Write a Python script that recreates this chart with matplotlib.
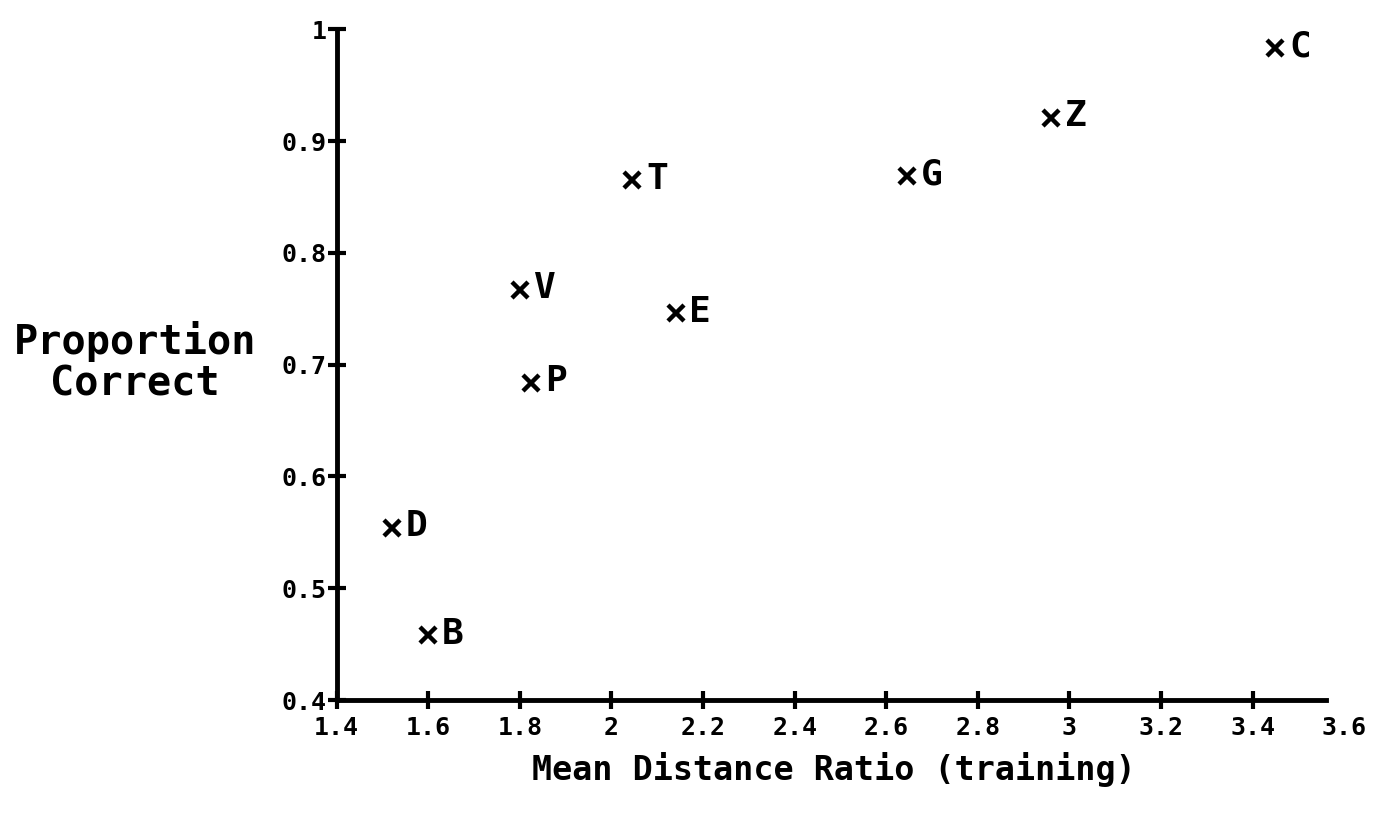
import matplotlib
matplotlib.use("Agg")
import matplotlib.pyplot as plt

plt.rcParams['font.family'] = ['DejaVu Sans Mono']
plt.rcParams['font.weight'] = 'bold'

# letter conditions: mean distance ratio vs proportion correct
letters = ["C", "Z", "G", "T", "V", "E", "P", "D", "B"]
distance_ratio = [3.45, 2.96, 2.645, 2.045, 1.80, 2.14, 1.825, 1.52, 1.60]
prop_correct = [0.983, 0.921, 0.869, 0.865, 0.767, 0.746, 0.684, 0.554, 0.458]

x_ticks = [1.4, 1.6, 1.8, 2.0, 2.2, 2.4, 2.6, 2.8, 3.0, 3.2, 3.4, 3.6]
x_labels = ["1.4", "1.6", "1.8", "2", "2.2", "2.4", "2.6", "2.8", "3", "3.2", "3.4", "3.6"]
y_ticks = [0.4, 0.5, 0.6, 0.7, 0.8, 0.9, 1.0]
y_labels = ["0.4", "0.5", "0.6", "0.7", "0.8", "0.9", "1"]

fig = plt.figure(figsize=(13.8, 8.14), dpi=100)
ax = fig.add_axes([0.244, 0.140, 0.730, 0.824])

ax.plot(distance_ratio, prop_correct, linestyle="none", marker="x",
        markersize=12, markeredgewidth=3.2, color="black")
for lx, ly, name in zip(distance_ratio, prop_correct, letters):
    ax.annotate(name, (lx, ly), xytext=(10, 1), textcoords="offset points",
                ha="left", va="center", fontsize=26, fontweight="bold")

ax.set_xlim(1.4, 3.6)
ax.set_ylim(0.4, 1.0)

for side in ["top", "right"]:
    ax.spines[side].set_visible(False)
for side in ["left", "bottom"]:
    ax.spines[side].set_linewidth(3.5)
ax.spines["bottom"].set_bounds(1.4, 3.56)

ax.set_xticks(x_ticks)
ax.set_xticklabels(x_labels)
ax.set_yticks(y_ticks)
ax.set_yticklabels(y_labels)
ax.tick_params(direction="inout", length=13, width=3, labelsize=18, pad=2)
ax.tick_params(axis="x", pad=5)
ax.tick_params(axis="y", pad=1)
# the drawn axis stops short of 3.6, so that tick has a label only
ax.xaxis.get_major_ticks()[-1].tick1line.set_visible(False)

fig.text(0.098, 0.555, "Proportion\nCorrect", ha="center", va="center",
         fontsize=29, fontweight="bold", linespacing=1.1)
fig.text(0.604, 0.055, "Mean Distance Ratio (training)", ha="center",
         va="center", fontsize=24, fontweight="bold")

fig.savefig("out.png", dpi=100, facecolor="white")
